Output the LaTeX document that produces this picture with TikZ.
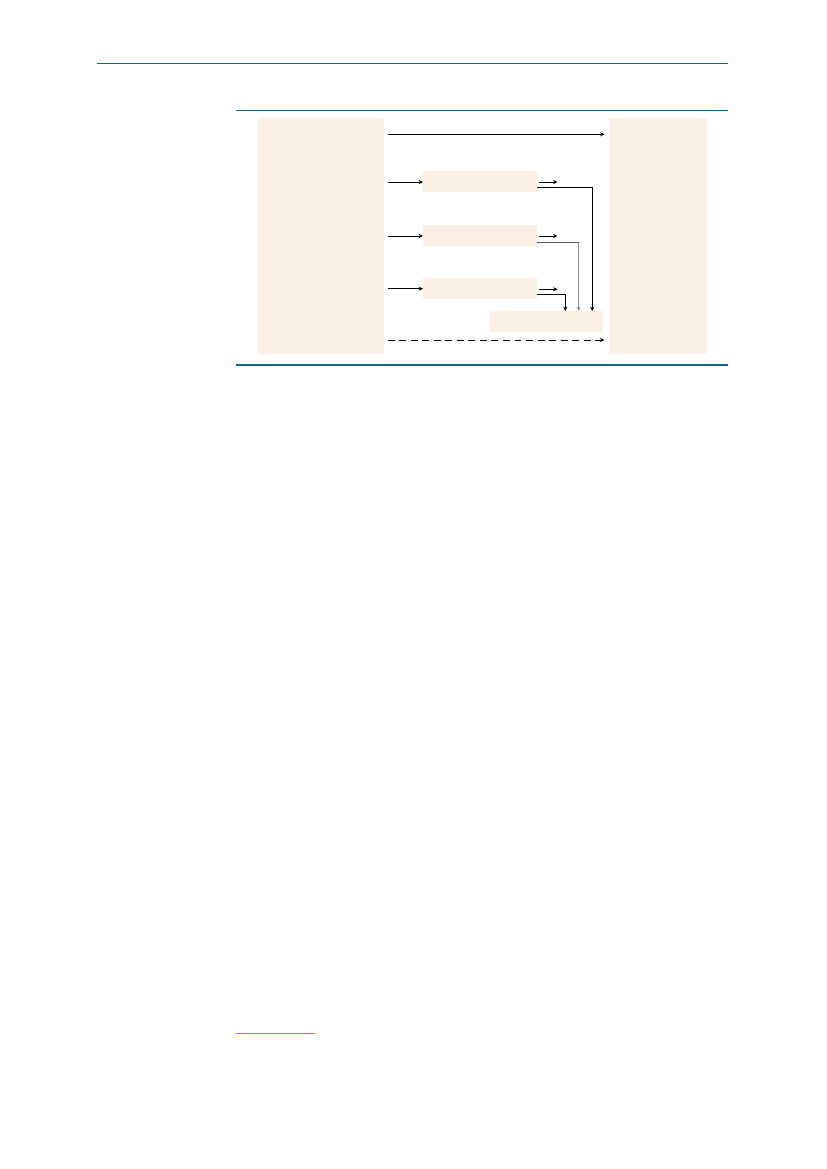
\documentclass[tikz,border=0pt]{standalone}
\usetikzlibrary{arrows.meta}
\definecolor{cream}{HTML}{FAF1E4}
\definecolor{rule}{HTML}{12668B}
\definecolor{gold}{HTML}{B8860B}
\tikzset{
  panel/.style={fill=cream,draw=none,inner sep=0pt,anchor=north west},
  conn/.style={line width=0.7pt,-{Stealth[length=3.2pt,width=3pt]}},
  hrule/.style={draw=rule,line width=0.85pt},
}
\begin{document}
\begin{tikzpicture}[x=0.7198pt,y=-0.7198pt]
\useasboundingbox (0,0) rectangle (827,1169);
% rules
\coordinate (h1) at (97,63.3); \coordinate (h2) at (728,63.3);
\draw[hrule] (h1) -- (h2);
\coordinate (t1) at (236,110.5); \coordinate (t2) at (728,110.5);
\draw[hrule] (t1) -- (t2);
\coordinate (b1) at (236,365); \coordinate (b2) at (728,365);
\draw[hrule] (b1) -- (b2);
\coordinate (f1) at (236,1033.3); \coordinate (f2) at (315,1033.3);
\draw[draw=gold,line width=0.85pt] (f1) -- (f2);
% panels
\node[panel,minimum width=126.3*0.7198pt,minimum height=236.3*0.7198pt] (L) at (257.7,117.7) {};
\node[panel,minimum width=98.4*0.7198pt,minimum height=236.3*0.7198pt] (R) at (608.3,117.7) {};
\node[panel,minimum width=113.7*0.7198pt,minimum height=20.5*0.7198pt] (A) at (423,171) {};
\node[panel,minimum width=113.7*0.7198pt,minimum height=20.7*0.7198pt] (B) at (423,225) {};
\node[panel,minimum width=113.7*0.7198pt,minimum height=20.6*0.7198pt] (C) at (423,277.7) {};
\node[panel,minimum width=113*0.7198pt,minimum height=20.7*0.7198pt] (D) at (489.7,311) {};
% coordinates
\coordinate (s0) at (387.7,134.3); \coordinate (e0) at (604.5,134.3);
\coordinate (sA) at (387.7,182); \coordinate (sB) at (387.7,236); \coordinate (sC) at (387.7,288.7);
\coordinate (oA1) at (539.3,182); \coordinate (oA2) at (557.5,182);
\coordinate (oB1) at (539.3,236); \coordinate (oB2) at (557.5,236);
\coordinate (oC1) at (539.3,289.3); \coordinate (oC2) at (557.5,289.3);
\coordinate (sd) at (387.7,340); \coordinate (ed) at (604.5,340);
\coordinate (xA) at ([yshift=-6*0.7198pt]A.east);
\coordinate (xB) at ([yshift=-7.3*0.7198pt]B.east);
\coordinate (xC) at ([yshift=-6.3*0.7198pt]C.east);
\coordinate (dA) at ([xshift=102.5*0.7198pt]D.north west);
\coordinate (dB) at ([xshift=89*0.7198pt]D.north west);
\coordinate (dC) at ([xshift=75.6*0.7198pt]D.north west);
\coordinate (kB) at (xB -| dB);
% arrows
\draw[conn] (s0) -- (e0);
\draw[conn] (sA) -- (sA -| A.west);
\draw[conn] (sB) -- (sB -| B.west);
\draw[conn] (sC) -- (sC -| C.west);
\draw[conn] (oA1) -- (oA2);
\draw[conn] (oB1) -- (oB2);
\draw[conn] (oC1) -- (oC2);
\draw[conn] (xA) -| (dA);
\draw[line width=0.7pt,draw=black!65] (xB) -- (kB);
\draw[conn,draw=black!45] (kB) -- (dB);
\draw[conn] (xC) -| (dC);
\draw[conn,dash pattern=on 5pt off 3.3pt] (sd) -- (ed);
\end{tikzpicture}
\end{document}
